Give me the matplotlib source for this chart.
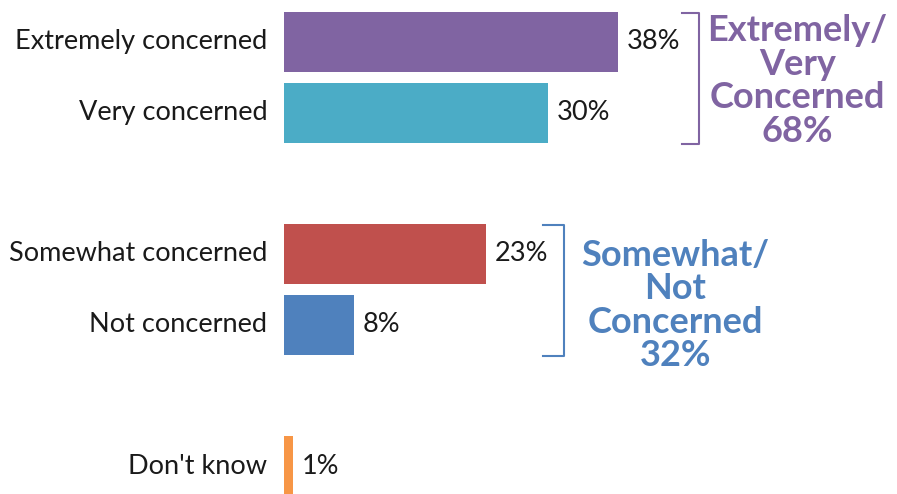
import matplotlib
matplotlib.use("Agg")
import matplotlib.pyplot as plt

categories = ["Extremely concerned", "Very concerned", "Somewhat concerned", "Not concerned", "Don't know"]
values = [38, 30, 23, 8, 1]
positions = [0, 1, 3, 4, 6]
colors = ["#8064A2", "#4BACC6", "#C0504D", "#4F81BD", "#F79646"]
group_titles = ["Extremely/\nVery\nConcerned", "Somewhat/\nNot\nConcerned"]
group_totals = [68, 32]

plt.rcParams['font.family'] = ['Lato', 'DejaVu Sans']

W, H = 897, 494
fig = plt.figure(figsize=(W / 100, H / 100), dpi=100)
ax = fig.add_axes([284 / W, 0, 1 - 284 / W, 1])
ax.set_xlim(0, (W - 284) / 8.79)
ax.set_ylim(6.396, -0.594)
ax.axis('off')

ax.barh(positions, values, height=0.85, color=colors)
for p, v, c in zip(positions, values, categories):
    ax.text(v + 1.0, p, f"{v}%", va='center', ha='left', fontsize=19.5, color='#1a1a1a')
    ax.text(-1.9, p, c, va='center', ha='right', fontsize=19.5, color='#1a1a1a', clip_on=False)

def bracket(i0, i1, col, dx, w):
    x0 = max(values[i0:i1 + 1]) + dx
    y0 = positions[i0] - 0.41
    y1 = positions[i1] + 0.45
    ax.plot([x0, x0 + w, x0 + w, x0], [y0, y0, y1, y1], color=col, lw=1.5, solid_joinstyle='round')

bracket(0, 1, "#8064A2", 7.3, 1.9)
bracket(2, 3, "#4F81BD", 6.5, 2.4)

ax.text(58.4, 0.55, f"{group_titles[0]}\n{group_totals[0]}%", ha='center', va='center', fontsize=26,
        fontweight='bold', color="#8064A2", linespacing=1.02)
ax.text(44.5, 3.73, f"{group_titles[1]}\n{group_totals[1]}%", ha='center', va='center', fontsize=26,
        fontweight='bold', color="#4F81BD", linespacing=1.02)

fig.savefig("out.png", dpi=100)
